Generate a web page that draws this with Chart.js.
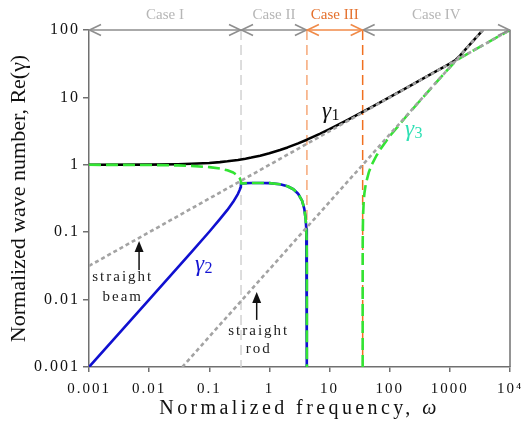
<!DOCTYPE html>
<html><head><meta charset="utf-8">
<script src="https://cdn.jsdelivr.net/npm/chart.js@4.4.1/dist/chart.umd.min.js"></script>
<style>html,body{margin:0;padding:0;background:#fff;}#wrap{width:523px;height:424px;}</style>
</head><body><div id="wrap"><canvas id="c" width="523" height="424"></canvas></div>
<script>
// ---------------- data ----------------
const xTicks = [0.001, 0.01, 0.1, 1, 10, 100, 1000, 10000];
const xTickLabels = ['0.001', '0.01', '0.1', '1', '10', '100', '1000', '10\u2074'];
const yTicks = [0.001, 0.01, 0.1, 1, 10, 100];
const yTickLabels = ['0.001', '0.01', '0.1', '1', '10', '100'];
const xTitle = 'Normalized frequency, \u03C9';
const yTitle = 'Normalized wave number, Re(\u03B3)';

const caseNames = ['Case I', 'Case II', 'Case III', 'Case IV'];
const caseBounds = [0.001, 0.337, 4.2, 35.5, 10000];

// gamma1 (black)
const omega1 = [0.001, 0.01, 0.03, 0.05, 0.1, 0.15, 0.2, 0.3, 0.4, 0.5, 0.7, 1, 1.5, 2, 3, 4.2, 7, 10, 20, 35.5, 50, 100, 200, 500, 800, 1000, 1260, 1500, 2000, 3000, 3550];
const gamma1 = [1.000, 1.007, 1.021, 1.034, 1.066, 1.097, 1.126, 1.180, 1.231, 1.279, 1.367, 1.485, 1.659, 1.812, 2.081, 2.358, 2.90, 3.38, 4.64, 6.09, 7.18, 10.08, 14.2, 22.45, 28.45, 31.8, 36.2, 42.45, 56.5, 84.6, 100];

// Case I : gamma2 (blue) and gamma3 (green) before they merge
const omegaLow = [0.001, 0.003, 0.01, 0.03, 0.05, 0.1, 0.15, 0.2, 0.25, 0.3, 0.32, 0.33, 0.335, 0.337];
const gamma2Low = [0.001, 0.003, 0.010, 0.030, 0.050, 0.1016, 0.156, 0.214, 0.282, 0.371, 0.4235, 0.462, 0.495, 0.53];
const gamma3Low = [0.9993, 0.9979, 0.993, 0.979, 0.963, 0.923, 0.879, 0.829, 0.768, 0.685, 0.635, 0.597, 0.565, 0.53];

// Case II : real part of the complex pair (gamma2 = gamma3)
const omegaPair = [0.337, 0.5, 0.7, 1, 1.5, 2, 2.5, 3, 3.5, 3.8, 4.0, 4.1, 4.15, 4.18, 4.195, 4.2];
const gammaPair = [0.53, 0.536, 0.538, 0.534, 0.514, 0.480, 0.434, 0.372, 0.291, 0.222, 0.157, 0.111, 0.079, 0.050, 0.025, 0.001];

// Case IV : gamma3 (green) above the ring frequency
const omegaHigh = [35.5, 35.52, 35.6, 36, 37, 38, 40, 45, 50, 60, 70, 100, 150, 200, 300, 500, 800, 1000, 1260, 1500, 2000, 3000, 5000, 10000];
const gamma3High = [0.001, 0.034, 0.075, 0.168, 0.294, 0.382, 0.519, 0.779, 0.992, 1.363, 1.70, 2.66, 4.08, 5.57, 8.4, 14.05, 22.4, 28.0, 34.8, 38.55, 44.7, 54.8, 70.7, 100];

// straight beam / straight rod reference lines (end points)
const beamOmega = [0.001, 10000];
const beamGamma = [0.0316, 100];
const rodOmega = [0.0355, 3550];
const rodGamma = [0.001, 100];

// annotation anchors (data coordinates)
const beamNote = { arrowX: 0.0068, tip: 0.074, tail: 0.0275, textX: 0.0035, line1Y: 0.0216, line2Y: 0.0109, lines: ['straight', 'beam'] };
const rodNote = { arrowX: 0.614, tip: 0.013, tail: 0.005, textX: 0.64, line1Y: 0.00342, line2Y: 0.00185, lines: ['straight', 'rod'] };
const gammaLabels = [
  { sub: '1', x: 7.48, y: 6.07, color: '#111111' },
  { sub: '2', x: 0.058, y: 0.0326, color: '#1414d2' },
  { sub: '3', x: 179.5, y: 3.28, color: '#2fe0b4' }
];

// ---------------- styles ----------------
const SERIF = '"Liberation Serif", "Times New Roman", serif';
const AXIS = '#707070';
const GREEN = '#33e433';
const BLUE = '#1010d0';
const GREY = '#a3a3a3';
const caseTextColors = ['#b6b6b6', '#b6b6b6', '#e4702c', '#b6b6b6'];
const caseArrowColors = ['#8e8e8e', '#8e8e8e', '#f08a48', '#8e8e8e'];
const boundaryColors = ['#d2d2d2', '#f6a878', '#f07020'];

function pts(xs, ys) { return xs.map((x, i) => ({ x: x, y: ys[i] })); }

const overlay = {
  id: 'overlay',
  afterLayout(chart) {
    const sx = chart.scales.x, sy = chart.scales.y;
    if (!sx._wrapped) {
      sx._wrapped = true;
      const lx = sx.drawLabels.bind(sx);
      sx.drawLabels = function (a) { const c = this.ctx; c.save(); c.letterSpacing = '2px'; lx(a); c.restore(); };
      sx.drawTitle = function () {
        const c = this.ctx, ca = this.chart.chartArea;
        c.save();
        c.letterSpacing = '3.4px';
        const f1 = '20px ' + SERIF, f2 = 'italic 20px ' + SERIF;
        const t1 = xTitle.slice(0, -1), t2 = xTitle.slice(-1);
        c.font = f1; const w1 = c.measureText(t1).width;
        c.font = f2; const w2 = c.measureText(t2).width;
        const x0 = (ca.left + ca.right) / 2 - (w1 + w2) / 2;
        const y = this.bottom - 15;
        c.textBaseline = 'middle'; c.textAlign = 'left'; c.fillStyle = '#111';
        c.font = f1; c.fillText(t1, x0, y);
        c.font = f2; c.fillText(t2, x0 + w1, y);
        c.restore();
      };
    }
    if (!sy._wrapped) {
      sy._wrapped = true;
      const ly = sy.drawLabels.bind(sy);
      sy.drawLabels = function (a) { const c = this.ctx; c.save(); c.letterSpacing = '2px'; ly(a); c.restore(); };
    }
  },
  beforeDatasetsDraw(chart) {
    const c = chart.ctx, sx = chart.scales.x, ca = chart.chartArea;
    c.save();
    c.lineWidth = 1.5;
    c.setLineDash([10, 5]);
    for (let i = 1; i < caseBounds.length - 1; i++) {
      const x = sx.getPixelForValue(caseBounds[i]);
      c.strokeStyle = boundaryColors[i - 1];
      c.beginPath(); c.moveTo(x, ca.top); c.lineTo(x, ca.bottom); c.stroke();
    }
    c.restore();
  },
  afterDraw(chart) {
    const c = chart.ctx, sx = chart.scales.x, sy = chart.scales.y, ca = chart.chartArea;
    c.save();
    // right border
    c.strokeStyle = AXIS; c.lineWidth = 1.5;
    c.beginPath(); c.moveTo(ca.right, ca.top); c.lineTo(ca.right, ca.bottom); c.stroke();
    // case arrows along the top
    const top = ca.top;
    const order = [0, 1, 3, 2];
    order.forEach(i => {
      const x0 = sx.getPixelForValue(caseBounds[i]);
      const x1 = sx.getPixelForValue(caseBounds[i + 1]);
      c.strokeStyle = caseArrowColors[i]; c.lineWidth = 1.6;
      c.beginPath(); c.moveTo(x0, top); c.lineTo(x1, top); c.stroke();
      c.beginPath();
      c.moveTo(x0 + 12, top - 5.5); c.lineTo(x0 + 0.5, top); c.lineTo(x0 + 12, top + 5.5);
      c.moveTo(x1 - 12, top - 5.5); c.lineTo(x1 - 0.5, top); c.lineTo(x1 - 12, top + 5.5);
      c.stroke();
      c.font = '15px ' + SERIF; c.fillStyle = caseTextColors[i];
      c.textAlign = 'center'; c.textBaseline = 'middle';
      c.fillText(caseNames[i], (x0 + x1) / 2, top - 15);
    });
    // straight beam / rod notes
    [beamNote, rodNote].forEach(n => {
      const ax = sx.getPixelForValue(n.arrowX);
      const yt = sy.getPixelForValue(n.tip), yb = sy.getPixelForValue(n.tail);
      c.strokeStyle = '#111'; c.fillStyle = '#111'; c.lineWidth = 1.5;
      c.beginPath(); c.moveTo(ax, yb); c.lineTo(ax, yt + 8); c.stroke();
      c.beginPath(); c.moveTo(ax, yt); c.lineTo(ax - 4.5, yt + 11); c.lineTo(ax + 4.5, yt + 11); c.closePath(); c.fill();
      c.font = '15px ' + SERIF; c.letterSpacing = '2px';
      c.textAlign = 'center'; c.textBaseline = 'middle'; c.fillStyle = '#222';
      const tx = sx.getPixelForValue(n.textX) + 1;
      c.fillText(n.lines[0], tx, sy.getPixelForValue(n.line1Y));
      c.fillText(n.lines[1], tx, sy.getPixelForValue(n.line2Y));
      c.letterSpacing = '0px';
    });
    // gamma labels
    gammaLabels.forEach(g => {
      const x = sx.getPixelForValue(g.x), y = sy.getPixelForValue(g.y);
      c.fillStyle = g.color; c.textAlign = 'left'; c.textBaseline = 'middle';
      c.font = 'italic 23px ' + SERIF;
      c.fillText('\u03B3', x, y);
      const w = c.measureText('\u03B3').width;
      c.font = '16px ' + SERIF;
      c.fillText(g.sub, x + w + 0.5, y + 4);
    });
    c.restore();
  }
};

const lineBase = { pointRadius: 0, tension: 0, fill: false, borderCapStyle: 'butt', borderJoinStyle: 'round' };

new Chart(document.getElementById('c'), {
  type: 'line',
  data: {
    datasets: [
      Object.assign({ label: 'straight beam', data: pts(beamOmega, beamGamma), borderColor: GREY, borderWidth: 2.6, borderDash: [4, 3], order: 0 }, lineBase),
      Object.assign({ label: 'straight rod', data: pts(rodOmega, rodGamma), borderColor: GREY, borderWidth: 2.6, borderDash: [4, 3], order: 0 }, lineBase),
      Object.assign({ label: 'gamma3 (I-II)', data: pts(omegaLow, gamma3Low).concat(pts(omegaPair, gammaPair)), borderColor: GREEN, borderWidth: 2.6, borderDash: [12, 5], order: 1 }, lineBase),
      Object.assign({ label: 'gamma3 (IV)', data: pts(omegaHigh, gamma3High), borderColor: GREEN, borderWidth: 2.6, borderDash: [12, 5], order: 1 }, lineBase),
      Object.assign({ label: 'gamma2', data: pts(omegaLow, gamma2Low).concat(pts(omegaPair, gammaPair)), borderColor: BLUE, borderWidth: 2.6, order: 2 }, lineBase),
      Object.assign({ label: 'gamma1', data: pts(omega1, gamma1), borderColor: '#000', borderWidth: 2.6, order: 3 }, lineBase)
    ]
  },
  options: {
    responsive: false,
    devicePixelRatio: 1,
    animation: false,
    layout: { padding: { left: 0, right: 13, top: 30, bottom: 0 } },
    plugins: { legend: { display: false }, tooltip: { enabled: false } },
    scales: {
      x: {
        type: 'logarithmic', position: 'bottom', min: 0.001, max: 10000,
        afterBuildTicks: s => { s.ticks = xTicks.map(v => ({ value: v })); },
        afterFit: s => { s.height = 57; s.paddingLeft = 0; s.paddingRight = 0; },
        ticks: { autoSkip: false, maxRotation: 0, minRotation: 0, padding: 8, color: '#111',
          font: { family: SERIF, size: 15 }, callback: (v, i) => xTickLabels[i] },
        grid: { display: true, drawOnChartArea: false, drawTicks: true, tickLength: 5, color: AXIS, lineWidth: 1.5 },
        border: { display: true, color: AXIS, width: 1.5 },
        title: { display: true, text: xTitle, font: { family: SERIF, size: 20 }, color: '#111', padding: { top: 0, bottom: 4 } }
      },
      y: {
        type: 'logarithmic', position: 'left', min: 0.001, max: 100,
        afterBuildTicks: s => { s.ticks = yTicks.map(v => ({ value: v })); },
        afterFit: s => { s.width = 89; s.paddingTop = 0; s.paddingBottom = 0; },
        ticks: { autoSkip: false, padding: 3, color: '#111',
          font: { family: SERIF, size: 16 }, callback: (v, i) => yTickLabels[i] },
        grid: { display: true, drawOnChartArea: false, drawTicks: true, tickLength: 6, color: AXIS, lineWidth: 1.5 },
        border: { display: true, color: AXIS, width: 1.5 },
        title: { display: true, text: yTitle, font: { family: SERIF, size: 22 }, color: '#111', padding: { top: 6, bottom: 0 } }
      }
    }
  },
  plugins: [overlay]
});
</script>
</body></html>
